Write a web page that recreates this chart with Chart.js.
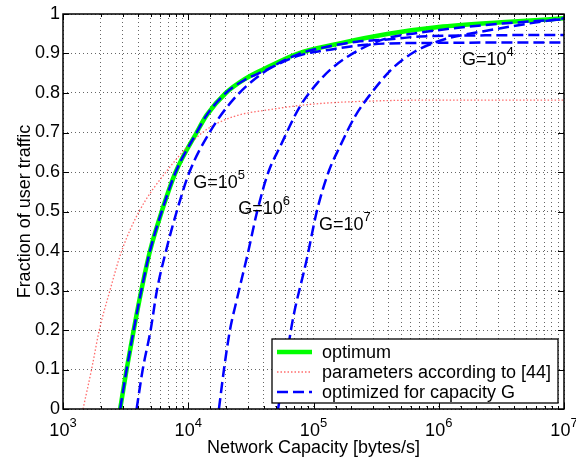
<!DOCTYPE html>
<html>
<head>
<meta charset="utf-8">
<script src="https://cdn.jsdelivr.net/npm/chart.js@4.4.1/dist/chart.umd.min.js"></script>
<style>
  body { margin: 0; background: #fff; }
  #wrap { width: 576px; height: 460px; }
</style>
</head>
<body>
<div id="wrap"><canvas id="chart" width="576" height="460"></canvas></div>
<script>
// network capacity [bytes/s] and fraction of user traffic
const optCap  = [2860, 3220, 3670, 4220, 4950, 6140, 7940, 11670, 14030, 19950, 28180, 39810, 75160, 158500, 398100, 1000000, 3162000, 10000000];
const optFrac = [0, 0.1, 0.2, 0.3, 0.4, 0.5, 0.6, 0.7, 0.744, 0.8, 0.835, 0.86, 0.9, 0.925, 0.95, 0.967, 0.979, 0.989];

const refCap  = [1445, 1690, 1950, 2370, 2940, 4050, 6640, 13000, 22900, 42700, 100000, 316000, 1000000, 10000000];
const refFrac = [0, 0.1, 0.2, 0.3, 0.4, 0.5, 0.6, 0.7, 0.74, 0.757, 0.772, 0.78, 0.782, 0.782];

const g4Cap  = [2860, 3220, 3670, 4220, 4950, 6140, 7940, 11670, 14030, 19950, 28180, 39810, 75160, 143200, 222300, 359400, 1000000, 10000000];
const g4Frac = [0, 0.1, 0.2, 0.3, 0.4, 0.5, 0.6, 0.7, 0.744, 0.8, 0.833, 0.855, 0.894, 0.911, 0.92, 0.925, 0.927, 0.928];

const g5Cap  = [3870, 4330, 5010, 5620, 6640, 8090, 10230, 14790, 22390, 37150, 75160, 143200, 222300, 371500, 707900, 2344000, 10000000];
const g5Frac = [0, 0.1, 0.2, 0.3, 0.4, 0.5, 0.6, 0.7, 0.78, 0.845, 0.898, 0.92, 0.93, 0.935, 0.943, 0.946, 0.947];

const g6Cap  = [17580, 19280, 21530, 24380, 30200, 35480, 43650, 54080, 77620, 107200, 143200, 222300, 371500, 676100, 2344000, 10000000];
const g6Frac = [0, 0.1, 0.2, 0.276, 0.4, 0.5, 0.6, 0.664, 0.765, 0.825, 0.865, 0.906, 0.937, 0.952, 0.972, 0.987];

const g7Cap  = [52120, 58880, 68230, 88100, 106200, 131800, 162200, 213800, 281800, 426600, 645700, 933300, 1274000, 2344000, 5012000, 10000000];
const g7Frac = [0, 0.1, 0.225, 0.377, 0.5, 0.6, 0.664, 0.74, 0.795, 0.862, 0.905, 0.928, 0.941, 0.957, 0.975, 0.989];

// x tick labels are 10^exp
const xTickExps = [3, 4, 5, 6, 7];

// "G=10^n" annotations, anchored in data coordinates
const gLabelExps  = [4, 5, 6, 7];
const gLabelCaps  = [1530000, 10970, 25100, 110600];
const gLabelFracs = [0.871, 0.559, 0.494, 0.453];

const legendLabels = ['optimum', 'parameters according to [44]', 'optimized for capacity G'];

const FONT = '"Liberation Sans", Arial, Helvetica, sans-serif';

function pts(xs, ys) {
  return xs.map((x, i) => ({ x: x, y: ys[i] }));
}

const blue = { borderColor: '#0000ff', borderWidth: 2.5, borderDash: [11, 5], order: 1 };

const datasets = [
  Object.assign({ label: legendLabels[2], data: pts(g4Cap, g4Frac) }, blue),
  Object.assign({ label: 'G=10^5', data: pts(g5Cap, g5Frac) }, blue),
  Object.assign({ label: 'G=10^6', data: pts(g6Cap, g6Frac) }, blue),
  Object.assign({ label: 'G=10^7', data: pts(g7Cap, g7Frac) }, blue),
  { label: legendLabels[1], data: pts(refCap, refFrac), borderColor: 'rgba(255,70,70,0.8)', borderWidth: 1.3, borderDash: [1.5, 2], order: 2 },
  { label: legendLabels[0], data: pts(optCap, optFrac), borderColor: '#00ff00', borderWidth: 4.5, order: 3 }
];

function isPow10(v) {
  const l = Math.log10(v);
  return Math.abs(l - Math.round(l)) < 1e-9;
}

function drawPow(ctx, x, y, base, exp, center) {
  ctx.font = '18px ' + FONT;
  const w1 = ctx.measureText(base).width;
  ctx.font = '13px ' + FONT;
  const w2 = ctx.measureText(String(exp)).width;
  const x0 = center ? x - (w1 + w2) / 2 : x;
  ctx.textAlign = 'left';
  ctx.textBaseline = 'alphabetic';
  ctx.font = '18px ' + FONT;
  ctx.fillText(base, x0, y);
  ctx.font = '13px ' + FONT;
  ctx.fillText(String(exp), x0 + w1, y - 9);
}

const decor = {
  id: 'decor',
  afterDatasetsDraw(chart) {
    const { ctx, chartArea: a, scales: { x, y } } = chart;
    ctx.save();
    // inward tick marks
    ctx.strokeStyle = '#000';
    ctx.lineWidth = 1;
    ctx.setLineDash([]);
    ctx.beginPath();
    x.ticks.forEach(t => {
      const px = Math.round(x.getPixelForValue(t.value)) + 0.5;
      const len = isPow10(t.value) ? 6 : 3;
      ctx.moveTo(px, a.bottom); ctx.lineTo(px, a.bottom - len);
      ctx.moveTo(px, a.top); ctx.lineTo(px, a.top + len);
    });
    y.ticks.forEach(t => {
      const py = Math.round(y.getPixelForValue(t.value)) + 0.5;
      ctx.moveTo(a.left, py); ctx.lineTo(a.left + 6, py);
      ctx.moveTo(a.right, py); ctx.lineTo(a.right - 6, py);
    });
    ctx.stroke();

    // box
    ctx.lineWidth = 1.5;
    ctx.strokeRect(a.left, a.top, a.right - a.left, a.bottom - a.top);

    // G labels
    ctx.fillStyle = '#000';
    gLabelExps.forEach((e, i) => {
      drawPow(ctx, x.getPixelForValue(gLabelCaps[i]), y.getPixelForValue(gLabelFracs[i]), 'G=10', e, false);
    });

    // legend (SouthEast, inside axes)
    const lx = 272, ly = 339, lw = a.right - 6 - lx, lh = a.bottom - 6 - ly;
    ctx.fillStyle = '#fff';
    ctx.fillRect(lx, ly, lw, lh);
    ctx.strokeStyle = '#000';
    ctx.lineWidth = 1.3;
    ctx.strokeRect(lx, ly, lw, lh);
    legendLabels.forEach((lab, i) => {
      const ds = chart.data.datasets.find(d => d.label === lab);
      const ry = ly + 13 + i * 20;
      ctx.save();
      ctx.strokeStyle = ds.borderColor;
      ctx.lineWidth = ds.borderWidth;
      ctx.setLineDash(ds.borderDash || []);
      ctx.beginPath();
      ctx.moveTo(lx + 5, ry);
      ctx.lineTo(lx + 40, ry);
      ctx.stroke();
      ctx.restore();
      ctx.fillStyle = '#000';
      ctx.font = '18px ' + FONT;
      ctx.textAlign = 'left';
      ctx.textBaseline = 'middle';
      ctx.fillText(lab, lx + 50, ry + 1);
    });

    // x tick labels 10^n
    ctx.fillStyle = '#000';
    xTickExps.forEach(e => {
      drawPow(ctx, x.getPixelForValue(Math.pow(10, e)), 436, '10', e, true);
    });
    ctx.restore();
  }
};

new Chart(document.getElementById('chart'), {
  type: 'line',
  data: { datasets: datasets },
  options: {
    responsive: false,
    animation: false,
    layout: { padding: { top: 14, right: 12, left: 0, bottom: 0 } },
    elements: {
      point: { radius: 0 },
      line: { fill: false, cubicInterpolationMode: 'monotone' }
    },
    plugins: {
      legend: { display: false },
      tooltip: { enabled: false }
    },
    scales: {
      x: {
        type: 'logarithmic',
        min: 1000,
        max: 10000000,
        afterFit(scale) { scale.height = 51; },
        ticks: { display: false },
        grid: { drawTicks: false, color: '#666', lineWidth: 1 },
        border: { display: false, dash: [1, 3] },
        title: {
          display: true,
          text: 'Network Capacity [bytes/s]',
          color: '#000',
          font: { family: FONT, size: 18, lineHeight: 1 },
          padding: { top: 0, bottom: 3 }
        }
      },
      y: {
        min: 0,
        max: 1,
        afterFit(scale) { scale.width = 63; },
        ticks: {
          stepSize: 0.1,
          padding: 3,
          color: '#000',
          font: { family: FONT, size: 18 },
          callback: v => String(Number(v.toFixed(1)))
        },
        grid: { drawTicks: false, color: '#666', lineWidth: 1 },
        border: { display: false, dash: [1, 3] },
        title: {
          display: true,
          text: 'Fraction of user traffic',
          color: '#000',
          font: { family: FONT, size: 18, lineHeight: 1 },
          padding: { top: 16, bottom: 0 }
        }
      }
    }
  },
  plugins: [decor]
});
</script>
</body>
</html>
